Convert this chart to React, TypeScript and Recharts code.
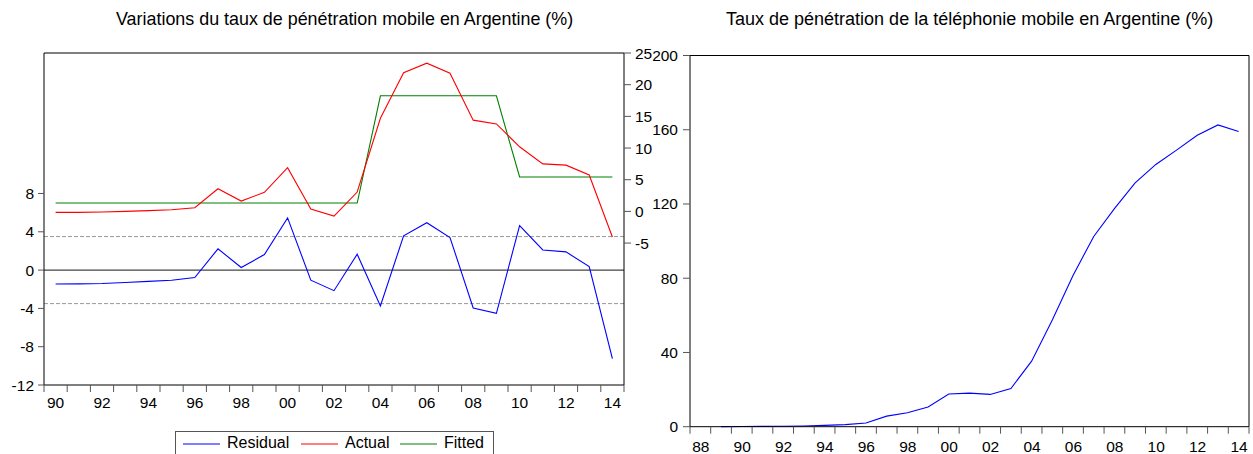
import React from "react";
import { LineChart, Line, XAxis, YAxis, ReferenceLine } from "recharts";

// residual / actual / fitted, 1990-2014
const years = [
    1990, 1991, 1992, 1993, 1994, 1995, 1996, 1997, 1998, 1999, 2000, 2001, 2002,
    2003, 2004, 2005, 2006, 2007, 2008, 2009, 2010, 2011, 2012, 2013, 2014
];
const residual = [
    -1.45, -1.44, -1.40, -1.30, -1.18, -1.06, -0.78, 2.22, 0.27, 1.62, 5.45, -1.05, -2.15,
    1.66, -3.75, 3.58, 4.95, 3.40, -3.95, -4.52, 4.65, 2.10, 1.90, 0.36, -9.25
];
const actual = [
    -0.15, -0.15, -0.10, 0.00, 0.12, 0.25, 0.58, 3.58, 1.63, 3.00, 6.90, 0.37, -0.74,
    3.06, 14.70, 21.90, 23.40, 21.80, 14.40, 13.80, 10.20, 7.50, 7.30, 5.75, -4.05
];
const fitted = [
    1.32, 1.32, 1.32, 1.32, 1.32, 1.32, 1.32, 1.32, 1.32, 1.32, 1.32, 1.32, 1.32,
    1.32, 18.25, 18.25, 18.25, 18.25, 18.25, 18.25, 5.43, 5.43, 5.43, 5.43, 5.43
];

// penetration rate, 1989-2014
const penYears = [
    1989, 1990, 1991, 1992, 1993, 1994, 1995, 1996, 1997, 1998, 1999, 2000, 2001,
    2002, 2003, 2004, 2005, 2006, 2007, 2008, 2009, 2010, 2011, 2012, 2013, 2014
];
const penetration = [
    0.05, 0.1, 0.15, 0.25, 0.4, 0.7, 1.1, 2.0, 5.7, 7.5, 10.6, 17.6, 18.1,
    17.4, 20.6, 35.3, 57.5, 81.5, 102.5, 117.5, 131.4, 141.3, 149.0, 157.0, 162.6, 159.1
];

const leftTicks = [-12, -8, -4, 0, 4, 8];
const rightTicks = [-5, 0, 5, 10, 15, 20, 25];
const penTicks = [0, 40, 80, 120, 160, 200];

const legendItems = [
    { label: "Residual", color: "#0000ff" },
    { label: "Actual", color: "#ff0000" },
    { label: "Fitted", color: "#008000" }
];

const FONT = "Arial, 'Liberation Sans', sans-serif";

const resData = years.map((year, i) => ({
    year,
    residual: residual[i],
    actual: actual[i],
    fitted: fitted[i]
}));
const penData = penYears.map((year, i) => ({ year, value: penetration[i] }));

// tick marks sit between years, labels (even years only) in the middle
function boundaries(list: number[]) {
    return [...list.map(y => y - 0.5), list[list.length - 1] + 0.5];
}

function yearTick(band: number, last: number) {
    return (props: any) => {
        const { x, y, payload } = props;
        const yr = Math.round(payload.value + 0.5);
        if (yr > last || yr % 2 !== 0) return <g />;
        return (
            <text x={x + band / 2} y={y} dy="0.71em" textAnchor="middle"
                fill="#000" fontSize={15.5} fontFamily={FONT}>
                {String(yr).slice(-2)}
            </text>
        );
    };
}

const tickStyle = { fontSize: 15.5, fill: "#000", fontFamily: FONT };

export default function App() {
    const leftBand = 580 / years.length;
    const rightBand = 559 / penYears.length;

    return (
        <div style={{ position: "absolute", left: 0, top: 0, width: 1253, height: 454, overflow: "hidden", background: "#fff", fontFamily: FONT }}>
            <div style={{ position: "absolute", left: 116, top: 9, fontSize: 17.9, whiteSpace: "nowrap", color: "#000" }}>
                Variations du taux de pénétration mobile en Argentine (%)
            </div>
            <div style={{ position: "absolute", left: 726, top: 9, fontSize: 18, whiteSpace: "nowrap", color: "#000" }}>
                Taux de pénétration de la téléphonie mobile en Argentine (%)
            </div>

            <div style={{ position: "absolute", left: 0, top: 0 }}>
                <LineChart width={680} height={454} data={resData}
                    margin={{ top: 53, right: 0, bottom: 0, left: 0 }}>
                    <XAxis xAxisId="x" dataKey="year" type="number" domain={[1989.5, 2014.5]}
                        ticks={boundaries(years)} interval={0} height={69}
                        tickSize={7} tickMargin={5}
                        axisLine={{ stroke: "#000" }} tickLine={{ stroke: "#555" }}
                        tick={yearTick(leftBand, 2014)} />
                    <YAxis yAxisId="l" domain={[-12, 22.67]} ticks={leftTicks} interval={0}
                        width={44} tickSize={6} tickMargin={4} allowDataOverflow
                        axisLine={{ stroke: "#000" }} tickLine={{ stroke: "#555" }} tick={tickStyle} />
                    <YAxis yAxisId="r" orientation="right" domain={[-27.4, 25]} ticks={rightTicks}
                        interval={0} width={56} tickSize={7} tickMargin={4} allowDataOverflow
                        axisLine={{ stroke: "#000" }} tickLine={{ stroke: "#555" }} tick={tickStyle} />

                    <ReferenceLine xAxisId="x" yAxisId="l" y={22.67} stroke="#000" ifOverflow="visible" />
                    <ReferenceLine xAxisId="x" yAxisId="l" y={0} stroke="#444" strokeWidth={1.3} />
                    <ReferenceLine xAxisId="x" yAxisId="l" y={3.5} stroke="#999" strokeDasharray="4 2" />
                    <ReferenceLine xAxisId="x" yAxisId="l" y={-3.5} stroke="#999" strokeDasharray="4 2" />

                    <Line xAxisId="x" yAxisId="r" dataKey="fitted" stroke="#008000" dot={false}
                        strokeWidth={1.1} isAnimationActive={false} />
                    <Line xAxisId="x" yAxisId="r" dataKey="actual" stroke="#ff0000" dot={false}
                        strokeWidth={1.1} isAnimationActive={false} />
                    <Line xAxisId="x" yAxisId="l" dataKey="residual" stroke="#0000ff" dot={false}
                        strokeWidth={1.1} isAnimationActive={false} />
                </LineChart>
            </div>

            <div style={{
                position: "absolute", left: 175, top: 431, width: 317, height: 40,
                borderTop: "1px solid #555", borderLeft: "1px solid #555", borderRight: "1px solid #555",
                fontSize: 16, color: "#000", whiteSpace: "nowrap"
            }}>
                {legendItems.map((item, i) => (
                    <span key={item.label} style={{ position: "absolute", left: [7, 125, 224][i], top: 2, display: "flex", alignItems: "center" }}>
                        <svg width={37} height={18} style={{ marginRight: 7 }}>
                            <line x1={0} y1={10} x2={37} y2={10} stroke={item.color} strokeWidth={1.1} />
                        </svg>
                        <span>{item.label}</span>
                    </span>
                ))}
            </div>

            <div style={{ position: "absolute", left: 640, top: 0 }}>
                <LineChart width={613} height={454} data={penData}
                    margin={{ top: 55.5, right: 4, bottom: 0, left: 0 }}>
                    <XAxis dataKey="year" type="number" domain={[1987.5, 2014.5]}
                        ticks={boundaries([1988, ...penYears])} interval={0} height={27.3}
                        tickSize={7} tickMargin={7}
                        axisLine={{ stroke: "#000" }} tickLine={{ stroke: "#555" }}
                        tick={yearTick(rightBand, 2014)} />
                    <YAxis domain={[0, 200]} ticks={penTicks} interval={0} width={50}
                        tickSize={7} tickMargin={5}
                        axisLine={{ stroke: "#000" }} tickLine={{ stroke: "#555" }} tick={tickStyle} />
                    <ReferenceLine y={200} stroke="#000" ifOverflow="visible" />
                    <ReferenceLine x={2014.5} stroke="#000" ifOverflow="visible" />
                    <Line dataKey="value" stroke="#0000ff" dot={false} strokeWidth={1.1}
                        isAnimationActive={false} />
                </LineChart>
            </div>
        </div>
    );
}
